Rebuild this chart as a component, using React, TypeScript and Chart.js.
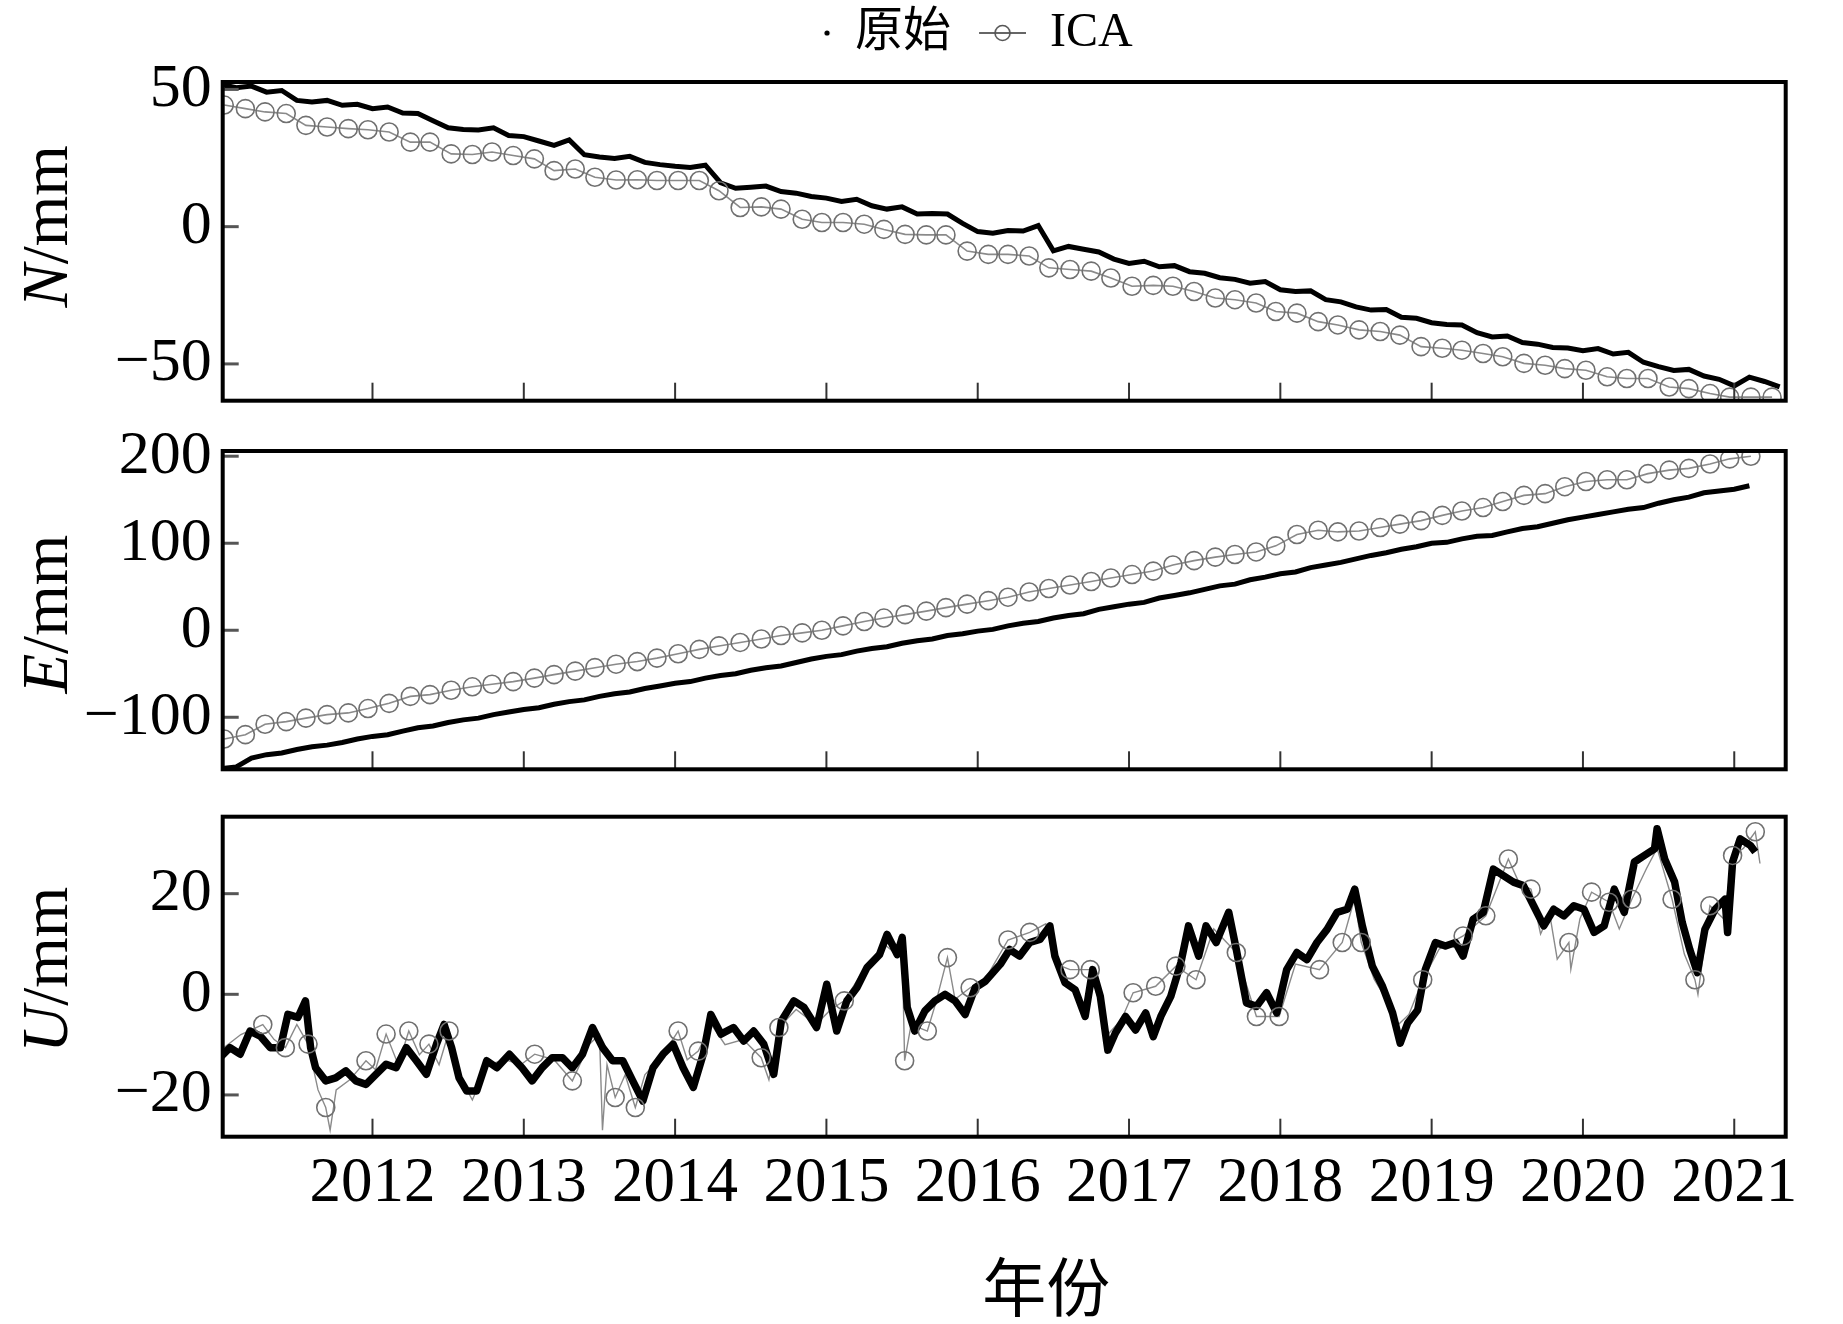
import React, { useEffect, useRef } from "react";
import { Chart, registerables } from "chart.js";

Chart.register(...registerables);

const SERIF = '"Liberation Serif", "Times New Roman", serif';
const MIXED = '"Liberation Serif", "Noto Sans CJK SC", serif';

// ---------- axes ----------
const yearTicks = [2012, 2013, 2014, 2015, 2016, 2017, 2018, 2019, 2020, 2021];
const nTicks = [-50, 0, 50];
const eTicks = [-100, 0, 100, 200];
const uTicks = [-20, 0, 20];
const xAxisTitle = "年份";

// ---------- N / E original series (decimal years) ----------
const origYears = [
  2011.0, 2011.1, 2011.2, 2011.3, 2011.4, 2011.5, 2011.6, 2011.7, 2011.8, 2011.9,
  2012.0, 2012.1, 2012.2, 2012.3, 2012.4, 2012.5, 2012.6, 2012.7, 2012.8, 2012.9,
  2013.0, 2013.1, 2013.2, 2013.3, 2013.4, 2013.5, 2013.6, 2013.7, 2013.8, 2013.9,
  2014.0, 2014.1, 2014.2, 2014.3, 2014.4, 2014.5, 2014.6, 2014.7, 2014.8, 2014.9,
  2015.0, 2015.1, 2015.2, 2015.3, 2015.4, 2015.5, 2015.6, 2015.7, 2015.8, 2015.9,
  2016.0, 2016.1, 2016.2, 2016.3, 2016.4, 2016.5, 2016.6, 2016.7, 2016.8, 2016.9,
  2017.0, 2017.1, 2017.2, 2017.3, 2017.4, 2017.5, 2017.6, 2017.7, 2017.8, 2017.9,
  2018.0, 2018.1, 2018.2, 2018.3, 2018.4, 2018.5, 2018.6, 2018.7, 2018.8, 2018.9,
  2019.0, 2019.1, 2019.2, 2019.3, 2019.4, 2019.5, 2019.6, 2019.7, 2019.8, 2019.9,
  2020.0, 2020.1, 2020.2, 2020.3, 2020.4, 2020.5, 2020.6, 2020.7, 2020.8, 2020.9,
  2021.0, 2021.1, 2021.2, 2021.3,
];
const nOrig = [
  51.8, 50.6, 51.2, 49.0, 49.6, 46.0, 45.4, 46.0, 44.2, 44.6,
  43.0, 43.6, 41.4, 41.2, 38.6, 36.0, 35.4, 35.2, 36.0, 33.2,
  32.8, 31.2, 29.6, 31.6, 26.2, 25.4, 24.8, 25.6, 23.4, 22.6,
  22.0, 21.6, 22.4, 16.0, 14.0, 14.4, 14.8, 12.8, 12.2, 11.0,
  10.4, 9.2, 10.0, 7.6, 6.4, 7.2, 4.6, 4.8, 4.6, 1.2,
  -1.8, -2.4, -1.4, -1.6, 0.4, -8.8, -7.2, -8.2, -9.2, -11.8,
  -13.4, -12.6, -14.6, -14.2, -16.4, -17.0, -18.6, -19.2, -20.6, -20.0,
  -23.0, -23.6, -23.4, -26.6, -27.4, -29.2, -30.4, -30.2, -33.0, -33.4,
  -35.0, -35.6, -35.8, -38.6, -40.2, -39.8, -42.2, -42.8, -44.0, -44.2,
  -45.2, -44.4, -46.4, -45.8, -49.4, -51.0, -52.4, -52.0, -54.4, -55.6,
  -58.0, -54.8, -56.4, -58.4,
];
const eOrig = [
  -159, -157, -147, -143, -141, -137, -134, -132, -129, -125,
  -122, -120, -116, -112, -110, -106, -103, -101, -97, -94,
  -91, -89, -85, -82, -80, -76, -73, -71, -67, -64,
  -61, -59, -55, -52, -50, -46, -43, -41, -37, -33,
  -30, -28, -24, -21, -19, -15, -12, -10, -6, -4,
  -1, 1, 5, 8, 10, 14, 17, 19, 24, 27,
  30, 32, 37, 40, 43, 47, 51, 53, 58, 61,
  65, 67, 72, 75, 78, 82, 86, 89, 93, 96,
  100, 101, 105, 108, 109, 113, 117, 119, 123, 127,
  130, 133, 136, 139, 141, 146, 150, 153, 158, 160,
  162, 166, null, null,
];

// ---------- ICA series for N / E (marker epochs) ----------
const icaYears = [
  2011.02, 2011.16, 2011.29, 2011.43, 2011.56, 2011.70, 2011.84, 2011.97,
  2012.11, 2012.25, 2012.38, 2012.52, 2012.66, 2012.79, 2012.93,
  2013.07, 2013.20, 2013.34, 2013.47, 2013.61, 2013.75, 2013.88,
  2014.02, 2014.16, 2014.29, 2014.43, 2014.57, 2014.70, 2014.84, 2014.97,
  2015.11, 2015.25, 2015.38, 2015.52, 2015.66, 2015.79, 2015.93,
  2016.07, 2016.20, 2016.34, 2016.47, 2016.61, 2016.75, 2016.88,
  2017.02, 2017.16, 2017.29, 2017.43, 2017.57, 2017.70, 2017.84, 2017.97,
  2018.11, 2018.25, 2018.38, 2018.52, 2018.66, 2018.79, 2018.93,
  2019.07, 2019.20, 2019.34, 2019.47, 2019.61, 2019.75, 2019.88,
  2020.02, 2020.16, 2020.29, 2020.43, 2020.57, 2020.70, 2020.84, 2020.97,
  2021.11, 2021.25,
];
const nIca = [
  44.3, 43.0, 41.8, 41.2, 36.9, 36.3, 35.7, 35.3,
  34.5, 30.8, 30.8, 26.5, 26.3, 27.2, 25.9,
  24.7, 20.4, 21.0, 18.0, 17.0, 17.1, 16.8,
  16.8, 16.8, 13.1, 7.0, 7.2, 6.4, 2.7, 1.5,
  1.5, 0.9, -1.0, -2.8, -3.0, -3.0, -8.9,
  -10.1, -10.1, -10.7, -15.0, -15.6, -16.2, -18.7,
  -21.7, -21.4, -21.7, -23.6, -26.0, -26.6, -27.8, -30.9,
  -31.5, -34.6, -35.8, -37.6, -38.2, -39.5, -43.7,
  -44.3, -45.0, -46.2, -47.4, -49.8, -50.5, -51.7,
  -52.3, -54.7, -55.3, -55.3, -58.4, -59.0, -60.8, -62.1,
  -62.1, -62.1,
];
const eIca = [
  -125, -120, -108, -105, -101, -97, -95, -90,
  -84, -76, -74, -69, -65, -62, -59,
  -55, -51, -47, -43, -39, -36, -32,
  -27, -22, -18, -14, -10, -6, -3, 0,
  5, 10, 14, 18, 22, 26, 30,
  34, 38, 44, 48, 52, 56, 60,
  64, 68, 75, 80, 84, 87, 90, 97,
  110, 115, 113, 114, 118, 122, 126,
  132, 137, 141, 148, 155, 157, 165,
  171, 173, 173, 180, 184, 186, 191, 197,
  200,
];

// ---------- U original ----------
const uYears = [
  2010.992, 2011.058, 2011.125, 2011.191, 2011.258, 2011.324, 2011.391, 2011.441, 2011.507, 2011.557,
  2011.591, 2011.624, 2011.691, 2011.757, 2011.824, 2011.890, 2011.957, 2012.023, 2012.090, 2012.156,
  2012.223, 2012.290, 2012.356, 2012.423, 2012.473, 2012.523, 2012.572, 2012.622, 2012.689, 2012.755,
  2012.822, 2012.905, 2012.988, 2013.055, 2013.121, 2013.188, 2013.255, 2013.321, 2013.388, 2013.454,
  2013.521, 2013.587, 2013.654, 2013.720, 2013.787, 2013.854, 2013.920, 2013.987, 2014.053, 2014.120,
  2014.186, 2014.236, 2014.303, 2014.386, 2014.453, 2014.519, 2014.586, 2014.652, 2014.702, 2014.785,
  2014.852, 2014.935, 2015.002, 2015.068, 2015.135, 2015.201, 2015.268, 2015.351, 2015.401, 2015.468,
  2015.501, 2015.534, 2015.584, 2015.651, 2015.717, 2015.784, 2015.850, 2015.917, 2015.983, 2016.050,
  2016.150, 2016.211, 2016.277, 2016.344, 2016.411, 2016.477, 2016.510, 2016.577, 2016.644, 2016.710,
  2016.760, 2016.810, 2016.860, 2016.910, 2016.977, 2017.043, 2017.110, 2017.160, 2017.210, 2017.276,
  2017.343, 2017.393, 2017.460, 2017.509, 2017.576, 2017.659, 2017.709, 2017.776, 2017.842, 2017.909,
  2017.976, 2018.042, 2018.109, 2018.176, 2018.242, 2018.309, 2018.375, 2018.442, 2018.492, 2018.542,
  2018.608, 2018.675, 2018.742, 2018.792, 2018.842, 2018.908, 2018.958, 2019.025, 2019.091, 2019.158,
  2019.208, 2019.274, 2019.341, 2019.408, 2019.474, 2019.541, 2019.607, 2019.674, 2019.741, 2019.807,
  2019.874, 2019.940, 2020.007, 2020.074, 2020.140, 2020.207, 2020.273, 2020.340, 2020.407, 2020.473,
  2020.490, 2020.540, 2020.606, 2020.656, 2020.706, 2020.756, 2020.806, 2020.873, 2020.939, 2020.956,
  2020.989, 2021.039, 2021.106, 2021.139,
];
const uOrig = [
  -12.6, -10.6, -11.9, -7.3, -8.3, -10.6, -10.6, -4.0, -4.6, -1.3,
  -10.6, -14.6, -17.2, -16.6, -15.2, -17.2, -17.9, -15.9, -13.9, -14.6,
  -10.6, -13.2, -15.9, -9.9, -6.0, -10.6, -16.6, -19.2, -19.2, -13.2,
  -14.6, -11.9, -14.6, -17.2, -14.6, -12.6, -12.6, -14.6, -11.9, -6.6,
  -10.6, -13.2, -13.2, -17.2, -21.2, -14.6, -11.9, -9.9, -14.6, -18.5,
  -11.9, -4.0, -7.9, -6.6, -9.3, -7.3, -9.9, -15.9, -5.3, -1.3,
  -2.6, -6.6, 2.0, -7.3, -1.3, 1.3, 5.3, 7.9, 11.9, 7.9,
  11.3, -2.6, -7.3, -3.3, -1.3, 0.0, -1.3, -4.0, 1.3, 2.6,
  6.0, 8.9, 7.6, 10.3, 10.9, 13.6, 7.6, 2.3, 0.9, -4.4,
  4.9, -0.4, -11.1, -7.7, -4.4, -7.1, -3.7, -8.4, -4.4, -0.4,
  6.3, 13.6, 7.6, 13.6, 10.3, 16.3, 8.9, -1.7, -2.4, 0.3,
  -3.7, 4.9, 8.3, 6.9, 10.3, 12.9, 16.3, 16.9, 20.9, 13.6,
  5.6, 1.6, -3.7, -9.7, -5.7, -3.1, 4.9, 10.3, 9.6, 10.3,
  7.6, 14.9, 16.3, 24.9, 23.6, 22.3, 21.6, 17.6, 13.6, 16.9,
  15.6, 17.6, 16.9, 12.3, 13.6, 20.9, 16.3, 26.3, 27.6, 28.9,
  32.9, 26.9, 22.3, 14.3, 8.9, 4.3, 12.9, 16.9, 18.9, 12.3,
  26.3, 30.9, 29.6, 28.3,
];

// ---------- U ICA (thin line; 1 = circle marker) ----------
const uIcaYears = [
  2011.00, 2011.13, 2011.275, 2011.35, 2011.424, 2011.50, 2011.574, 2011.64, 2011.691, 2011.72,
  2011.76, 2011.85, 2011.957, 2012.02, 2012.09, 2012.17, 2012.24, 2012.31, 2012.373, 2012.44,
  2012.506, 2012.57, 2012.66, 2012.76, 2012.88, 2012.98, 2013.072, 2013.20, 2013.321, 2013.43,
  2013.50, 2013.52, 2013.55, 2013.604, 2013.67, 2013.737, 2013.80, 2013.92, 2014.02, 2014.08,
  2014.153, 2014.24, 2014.33, 2014.45, 2014.569, 2014.62, 2014.686, 2014.80, 2014.93, 2015.03,
  2015.118, 2015.25, 2015.38, 2015.46, 2015.50, 2015.517, 2015.56, 2015.667, 2015.72, 2015.80,
  2015.85, 2015.95, 2016.05, 2016.20, 2016.344, 2016.45, 2016.52, 2016.61, 2016.744, 2016.86,
  2016.95, 2017.027, 2017.176, 2017.31, 2017.443, 2017.56, 2017.709, 2017.842, 2017.992, 2018.10,
  2018.259, 2018.409, 2018.49, 2018.535, 2018.62, 2018.70, 2018.78, 2018.85, 2018.941, 2019.05,
  2019.208, 2019.358, 2019.507, 2019.58, 2019.657, 2019.72, 2019.78, 2019.83, 2019.907, 2019.92,
  2019.98, 2020.057, 2020.173, 2020.24, 2020.323, 2020.42, 2020.49, 2020.589, 2020.67, 2020.74,
  2020.76, 2020.839, 2020.93, 2020.989, 2021.06, 2021.139, 2021.17,
];
const uIcaVals = [
  -11, -8, -6.0, -9, -10.6, -6, -9.9, -19, -22.5, -27,
  -19, -17, -13.2, -15, -7.9, -14, -7.3, -12, -9.9, -14,
  -7.3, -16, -21, -14, -13, -14, -11.9, -13, -17.2, -10,
  -8, -27, -14, -20.5, -16, -22.5, -16, -12, -7.3, -13,
  -11.3, -6, -10, -9, -12.6, -17, -6.6, -3, -6, -3,
  -1.3, 5, 10, 8, 10, -13.2, -6, -7.3, -2, 7.3,
  -1, 1.3, 3, 10.8, 12.3, 14, 6, 4.9, 4.9, -8,
  -5, 0.3, 1.6, 5.6, 2.9, 13, 8.3, -4.4, -4.4, 6,
  4.9, 10.3, 19, 10.3, 3, -1, -6, -4, 2.9, 9,
  11.6, 15.6, 26.9, 22, 20.9, 12, 16, 7, 10.3, 5,
  15, 20.3, 18.3, 13, 18.9, 25, 29, 18.9, 8, 2.9,
  0, 17.6, 15, 27.6, 29, 32.3, 26,
];
const uIcaMark = [
  0, 0, 1, 0, 1, 0, 1, 0, 1, 0,
  0, 0, 1, 0, 1, 0, 1, 0, 1, 0,
  1, 0, 0, 0, 0, 0, 1, 0, 1, 0,
  0, 0, 0, 1, 0, 1, 0, 0, 1, 0,
  1, 0, 0, 0, 1, 0, 1, 0, 0, 0,
  1, 0, 0, 0, 0, 1, 0, 1, 0, 1,
  0, 1, 0, 1, 1, 0, 0, 1, 1, 0,
  0, 1, 1, 1, 1, 0, 1, 1, 1, 0,
  1, 1, 0, 1, 0, 0, 0, 0, 1, 0,
  1, 1, 1, 0, 1, 0, 0, 0, 1, 0,
  0, 1, 1, 0, 1, 0, 0, 1, 0, 1,
  0, 1, 0, 1, 0, 1, 0,
];

const X_MIN = 2011.01;
const X_MAX = 2021.34;

const fmt = (v: number) => (v < 0 ? "\u2212" + Math.abs(v) : String(v));
const pts = (xs: number[], ys: (number | null)[]) => ys.map((y, i) => ({ x: xs[i], y }));

function makeDotIcon() {
  const c = document.createElement("canvas");
  c.width = 66; c.height = 20;
  const g = c.getContext("2d")!;
  g.fillStyle = "#000";
  g.beginPath(); g.arc(62, 10, 2.6, 0, Math.PI * 2); g.fill();
  return c;
}
function makeIcaIcon() {
  const c = document.createElement("canvas");
  c.width = 66; c.height = 24;
  const g = c.getContext("2d")!;
  g.strokeStyle = "#666"; g.lineWidth = 2;
  g.beginPath(); g.moveTo(19, 12); g.lineTo(66, 12); g.stroke();
  g.strokeStyle = "#555"; g.lineWidth = 1.6;
  g.beginPath(); g.arc(42.5, 12, 7.5, 0, Math.PI * 2); g.stroke();
  return c;
}

const zeroPad = (s: any) => {
  s.paddingTop = 0; s.paddingBottom = 0; s.paddingLeft = 0; s.paddingRight = 0;
};

const decorPlugin = {
  id: "decor",
  afterDatasetsDraw(chart: any, _a: any, opts: any) {
    const { ctx, chartArea: a } = chart;
    const xs = chart.scales.x, ys = chart.scales.y;
    ctx.save();
    ctx.lineCap = "butt";
    ctx.strokeStyle = "#555"; ctx.lineWidth = 3;
    for (const v of opts.yTicks) {
      const py = ys.getPixelForValue(v);
      ctx.beginPath(); ctx.moveTo(a.left, py); ctx.lineTo(a.left + 16, py); ctx.stroke();
    }
    ctx.strokeStyle = "#333"; ctx.lineWidth = 2;
    for (const v of yearTicks) {
      const px = xs.getPixelForValue(v);
      ctx.beginPath(); ctx.moveTo(px, a.bottom); ctx.lineTo(px, a.bottom - 18); ctx.stroke();
    }
    ctx.strokeStyle = "#000"; ctx.lineWidth = 4;
    ctx.strokeRect(a.left, a.top, a.right - a.left, a.bottom - a.top);
    ctx.fillStyle = "#000";
    // x-axis title (bottom panel only)
    if (opts.xTitle) {
      ctx.font = `64px ${MIXED}`;
      ctx.textAlign = "center";
      ctx.textBaseline = "middle";
      ctx.fillText(opts.xTitle, (a.left + a.right) / 2 + 42, a.bottom + 157);
    }
    // y-axis title with italic component letter
    ctx.translate(67, (a.top + a.bottom) / 2 + opts.titleShift);
    ctx.rotate(-Math.PI / 2);
    ctx.textBaseline = "alphabetic";
    ctx.textAlign = "left";
    const fi = `italic 65px ${SERIF}`, fn = `65px ${SERIF}`;
    ctx.font = fi; const w1 = ctx.measureText(opts.letter).width;
    ctx.font = fn; const w2 = ctx.measureText("/mm").width;
    const sx = -(w1 + w2) / 2;
    ctx.font = fi; ctx.fillText(opts.letter, sx, 0);
    ctx.font = fn; ctx.fillText("/mm", sx + w1, 0);
    ctx.restore();
  },
};

type Spec = {
  top: number; height: number;
  padding: { left: number; right: number; top: number; bottom: number };
  yWidth: number; yMin: number; yMax: number; yTicks: number[];
  letter: string; titleShift: number;
  legend: boolean; xLabels: boolean; xHeight?: number;
  datasets: () => any[];
};

function buildConfig(spec: Spec): any {
  const scales: any = {
    x: {
      type: "linear", min: X_MIN, max: X_MAX, display: spec.xLabels,
      afterBuildTicks: (s: any) => { s.ticks = yearTicks.map((v) => ({ value: v })); },
      grid: { display: false, drawTicks: false }, border: { display: false },
      ticks: {
        autoSkip: false, maxRotation: 0, minRotation: 0, padding: 16, color: "#000",
        font: { family: SERIF, size: 63, lineHeight: 1 },
        callback: (v: number) => String(v),
      },
      title: { display: false, text: xAxisTitle },
      afterFit: (s: any) => { if (spec.xHeight) s.height = spec.xHeight; zeroPad(s); },
    },
    y: {
      type: "linear", min: spec.yMin, max: spec.yMax,
      afterBuildTicks: (s: any) => { s.ticks = spec.yTicks.map((v) => ({ value: v })); },
      grid: { display: false, drawTicks: false }, border: { display: false },
      ticks: {
        autoSkip: false, padding: 11, color: "#000",
        font: { family: SERIF, size: 62, lineHeight: 1 },
        callback: (v: number) => fmt(v),
      },
      afterFit: (s: any) => { s.width = spec.yWidth; zeroPad(s); },
    },
  };
  if (spec.legend) {
    scales.sp = {
      type: "linear", position: "top", display: true,
      ticks: { display: false }, grid: { display: false, drawTicks: false }, border: { display: false },
      afterFit: (s: any) => { s.height = 15; zeroPad(s); },
    };
  }
  return {
    type: "line",
    data: { datasets: spec.datasets() },
    options: {
      responsive: false, animation: false, devicePixelRatio: 1, events: [],
      layout: { padding: spec.padding, autoPadding: false },
      scales,
      plugins: {
        tooltip: { enabled: false },
        decor: {
          yTicks: spec.yTicks, letter: spec.letter, titleShift: spec.titleShift,
          xTitle: spec.xLabels ? xAxisTitle : "",
        },
        legend: spec.legend
          ? {
              display: true, position: "top", fullSize: true, align: "center",
              labels: {
                usePointStyle: true, pointStyleWidth: 66, padding: 9, color: "#000",
                font: { family: MIXED, size: 48 },
                generateLabels: () => [
                  { text: "原始", pointStyle: makeDotIcon(), fillStyle: "#000", strokeStyle: "#000", lineWidth: 0, hidden: false, datasetIndex: 0, fontColor: "#000" },
                  { text: "ICA", pointStyle: makeIcaIcon(), fillStyle: "#666", strokeStyle: "#666", lineWidth: 0, hidden: false, datasetIndex: 1, fontColor: "#000" },
                ],
              },
            }
          : { display: false },
      },
    },
    plugins: [decorPlugin],
  };
}

const origStyle = { borderColor: "#000", backgroundColor: "#000", borderWidth: 5, pointRadius: 0, tension: 0, fill: false };
const icaStyle = {
  borderColor: "#8a8a8a", borderWidth: 1.6, pointRadius: 9, pointBorderColor: "#707070",
  pointBorderWidth: 1.6, pointBackgroundColor: "rgba(0,0,0,0)", tension: 0, fill: false,
};

const specs: Spec[] = [
  {
    top: 0, height: 420, padding: { left: 112, right: 57.3, top: 0, bottom: 19.3 },
    yWidth: 110.7, yMin: -63.4, yMax: 52.7, yTicks: nTicks, letter: "N", titleShift: -15,
    legend: true, xLabels: false,
    datasets: () => [
      { label: "原始", data: pts(origYears, nOrig), order: 1, ...origStyle },
      { label: "ICA", data: pts(icaYears, nIca), order: 0, ...icaStyle },
    ],
  },
  {
    top: 420, height: 390, padding: { left: 0, right: 57.3, top: 31, bottom: 40.7 },
    yWidth: 222.7, yMin: -159.8, yMax: 206, yTicks: eTicks, letter: "E", titleShift: 4,
    legend: false, xLabels: false,
    datasets: () => [
      { label: "原始", data: pts(origYears, eOrig), order: 1, ...origStyle },
      { label: "ICA", data: pts(icaYears.slice(0, eIca.length), eIca), order: 0, ...icaStyle },
    ],
  },
  {
    top: 810, height: 514, padding: { left: 0, right: 57.3, top: 6.7, bottom: 0 },
    yWidth: 222.7, yMin: -28.3, yMax: 35.3, yTicks: uTicks, letter: "U", titleShift: -7,
    legend: false, xLabels: true, xHeight: 187.3,
    datasets: () => [
      { label: "原始", data: pts(uYears, uOrig), order: 1, ...origStyle, borderWidth: 7.5, borderJoinStyle: "round" },
      { label: "ICA", data: pts(uIcaYears, uIcaVals), order: 2, borderColor: "#8a8a8a", borderWidth: 1.4, pointRadius: 0, tension: 0, fill: false },
      {
        label: "ICA markers", data: pts(uIcaYears, uIcaVals), order: 0, showLine: false,
        pointRadius: (c: any) => (uIcaMark[c.dataIndex] ? 9 : 0),
        pointBorderColor: "#707070", pointBorderWidth: 1.6, pointBackgroundColor: "rgba(0,0,0,0)",
      },
    ],
  },
];

function Panel({ spec }: { spec: Spec }) {
  const ref = useRef<HTMLCanvasElement>(null);
  useEffect(() => {
    const chart = new Chart(ref.current as HTMLCanvasElement, buildConfig(spec));
    return () => chart.destroy();
  }, [spec]);
  return (
    <canvas
      ref={ref}
      width={1843}
      height={spec.height}
      style={{ position: "absolute", left: 0, top: spec.top, width: 1843, height: spec.height, display: "block" }}
    />
  );
}

export default function App() {
  return (
    <div style={{ position: "absolute", left: 0, top: 0, width: 1843, height: 1324, background: "#fff", overflow: "hidden" }}>
      {specs.map((s, i) => (
        <Panel key={i} spec={s} />
      ))}
    </div>
  );
}
